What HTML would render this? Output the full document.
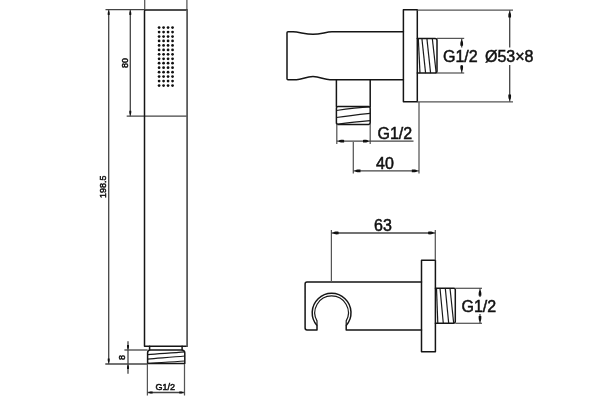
<!DOCTYPE html>
<html><head><meta charset="utf-8">
<style>
html,body{margin:0;padding:0;background:#fff;width:600px;height:400px;overflow:hidden}
svg{display:block;will-change:transform}
text{font-family:"Liberation Sans",sans-serif;fill:#111;stroke:#111;stroke-width:0.5}
.o{fill:none;stroke:#151515;stroke-width:1.5;stroke-linejoin:round;stroke-linecap:round}
.t{fill:none;stroke:#1a1a1a;stroke-width:1.2}
.d{fill:none;stroke:#444;stroke-width:1.3}
.e{fill:none;stroke:#555;stroke-width:1.25}
.a{fill:#111;stroke:none}
</style></head>
<body>
<svg width="600" height="400" viewBox="0 0 600 400">
<defs>
<path id="arr" d="M-1.2,0 C-2.5,-1.2 -4,-1.6 -7,-1.3 L-7,1.3 C-4,1.6 -2.5,1.2 -1.2,0 Z"/>
</defs>

<!-- ===== LEFT: hand shower ===== -->
<!-- top extension lines -->
<line class="e" x1="144.7" y1="0" x2="144.7" y2="10"/>
<line class="e" x1="186.9" y1="0" x2="186.9" y2="10"/>
<line class="d" x1="105.5" y1="9.6" x2="144.5" y2="9.6"/>
<line class="d" x1="126.7" y1="116.2" x2="187.3" y2="116.2"/>
<!-- handle body -->
<path class="o" d="M187.1,346.2 L144.5,346.2 L144.5,11 Q144.5,9.9 145.6,9.9 L187.1,9.9"/>
<line x1="187.1" y1="9.5" x2="187.1" y2="346.8" stroke="#5a5a5a" stroke-width="1.8"/>
<!-- dots -->
<g fill="#111"><circle cx="159.10" cy="27.60" r="1.38"/><circle cx="163.58" cy="27.60" r="1.38"/><circle cx="168.06" cy="27.60" r="1.38"/><circle cx="172.54" cy="27.60" r="1.38"/><circle cx="159.10" cy="32.05" r="1.38"/><circle cx="163.58" cy="32.05" r="1.38"/><circle cx="168.06" cy="32.05" r="1.38"/><circle cx="172.54" cy="32.05" r="1.38"/><circle cx="159.10" cy="36.51" r="1.38"/><circle cx="163.58" cy="36.51" r="1.38"/><circle cx="168.06" cy="36.51" r="1.38"/><circle cx="172.54" cy="36.51" r="1.38"/><circle cx="159.10" cy="40.97" r="1.38"/><circle cx="163.58" cy="40.97" r="1.38"/><circle cx="168.06" cy="40.97" r="1.38"/><circle cx="172.54" cy="40.97" r="1.38"/><circle cx="159.10" cy="45.42" r="1.38"/><circle cx="163.58" cy="45.42" r="1.38"/><circle cx="168.06" cy="45.42" r="1.38"/><circle cx="172.54" cy="45.42" r="1.38"/><circle cx="159.10" cy="49.88" r="1.38"/><circle cx="163.58" cy="49.88" r="1.38"/><circle cx="168.06" cy="49.88" r="1.38"/><circle cx="172.54" cy="49.88" r="1.38"/><circle cx="159.10" cy="54.33" r="1.38"/><circle cx="163.58" cy="54.33" r="1.38"/><circle cx="168.06" cy="54.33" r="1.38"/><circle cx="172.54" cy="54.33" r="1.38"/><circle cx="159.10" cy="58.79" r="1.38"/><circle cx="163.58" cy="58.79" r="1.38"/><circle cx="168.06" cy="58.79" r="1.38"/><circle cx="172.54" cy="58.79" r="1.38"/><circle cx="159.10" cy="63.24" r="1.38"/><circle cx="163.58" cy="63.24" r="1.38"/><circle cx="168.06" cy="63.24" r="1.38"/><circle cx="172.54" cy="63.24" r="1.38"/><circle cx="159.10" cy="67.69" r="1.38"/><circle cx="163.58" cy="67.69" r="1.38"/><circle cx="168.06" cy="67.69" r="1.38"/><circle cx="172.54" cy="67.69" r="1.38"/><circle cx="159.10" cy="72.15" r="1.38"/><circle cx="163.58" cy="72.15" r="1.38"/><circle cx="168.06" cy="72.15" r="1.38"/><circle cx="172.54" cy="72.15" r="1.38"/><circle cx="159.10" cy="76.61" r="1.38"/><circle cx="163.58" cy="76.61" r="1.38"/><circle cx="168.06" cy="76.61" r="1.38"/><circle cx="172.54" cy="76.61" r="1.38"/><circle cx="159.10" cy="81.06" r="1.38"/><circle cx="163.58" cy="81.06" r="1.38"/><circle cx="168.06" cy="81.06" r="1.38"/><circle cx="172.54" cy="81.06" r="1.38"/><circle cx="159.10" cy="85.52" r="1.38"/><circle cx="163.58" cy="85.52" r="1.38"/><circle cx="168.06" cy="85.52" r="1.38"/><circle cx="172.54" cy="85.52" r="1.38"/></g>
<!-- neck and thread -->
<line class="o" x1="149.6" y1="346.2" x2="149.6" y2="350"/>
<line class="o" x1="182.1" y1="346.2" x2="182.1" y2="350"/>
<path class="o" d="M149.6,350 L182.1,350 Q184.8,350.5 184.8,353 L184.8,363.6 L147.6,363.6 L147.6,353 Q147.6,350.5 149.6,350 Z"/>
<path class="t" d="M147.6,354.6 C160,353.5 172,353 184.8,351.8"/>
<path class="t" d="M147.6,359.1 C160,358 172,357.3 184.8,356"/>
<path class="t" d="M147.6,363.3 C160,362.5 172,362 184.8,361"/>
<!-- extension lines at thread -->
<line class="d" x1="124.4" y1="350" x2="147.6" y2="350"/>
<line class="d" x1="105.3" y1="364" x2="147.6" y2="364"/>
<line class="e" x1="147.4" y1="364" x2="147.4" y2="395.5"/>
<line class="e" x1="184.5" y1="364" x2="184.5" y2="395.5"/>
<!-- dim 198.5 -->
<line class="d" x1="108.7" y1="9.6" x2="108.7" y2="364"/>
<use href="#arr" class="a" transform="translate(108.7,10) rotate(-90) scale(0.72)"/>
<use href="#arr" class="a" transform="translate(108.7,363.6) rotate(90) scale(0.72)"/>
<!-- dim 80 -->
<line class="d" x1="130.3" y1="9.6" x2="130.3" y2="116.2"/>
<use href="#arr" class="a" transform="translate(130.3,10) rotate(-90) scale(0.72)"/>
<use href="#arr" class="a" transform="translate(130.3,115.8) rotate(90) scale(0.72)"/>
<!-- dim 8 -->
<line class="d" x1="128" y1="341.3" x2="128" y2="373.7"/>
<use href="#arr" class="a" transform="translate(128,350) rotate(90) scale(0.72)"/>
<use href="#arr" class="a" transform="translate(128,364) rotate(-90) scale(0.72)"/>
<!-- dim G1/2 bottom -->
<line class="d" x1="147.4" y1="392.5" x2="184.5" y2="392.5"/>
<use href="#arr" class="a" transform="translate(147.6,392.5) rotate(180) scale(0.72)"/>
<use href="#arr" class="a" transform="translate(184.3,392.5) scale(0.72)"/>
<text x="165.3" y="389.8" font-size="9" text-anchor="middle" stroke-width="0.2">G1/2</text>
<text transform="translate(106.3,186.8) rotate(-90)" font-size="9" text-anchor="middle" stroke-width="0.2">198.5</text>
<text transform="translate(127.6,63) rotate(-90)" font-size="9" text-anchor="middle" stroke-width="0.2">80</text>
<text transform="translate(125.2,357.5) rotate(-90)" font-size="9" text-anchor="middle" stroke-width="0.2">8</text>

<!-- ===== TOP RIGHT: wall outlet with holder ===== -->
<path class="o" d="M403.4,31.8 L332,31.8 C326,31.8 321,34.3 313,34.3 C305,34.3 299,31.8 293,31.8 L288,31.8 Q287,31.8 287,32.8 L287,78.7 Q287,79.7 288,79.7 L296.5,79.7 C302,79.7 306,76.6 313,76.6 C320,76.6 324,79.7 330,79.7 L403.4,79.7"/>
<rect class="o" x="403.4" y="9.7" width="13.9" height="92"/>
<path class="o" d="M417.3,38.5 L435,38.5 Q437,38.5 437,40.5 L437,71 Q437,73.1 435,73.1 L417.3,73.1"/>
<path class="t" d="M418.3,38.5 L420,73.1"/>
<path class="t" d="M421.9,38.5 L425.6,73.1"/>
<path class="t" d="M426.9,38.5 L430.6,73.1"/>
<path class="t" d="M432.3,38.5 L436.2,73.1"/>
<!-- lower outlet -->
<line class="o" x1="336.4" y1="79.7" x2="336.4" y2="106.6"/>
<line class="o" x1="370.2" y1="79.7" x2="370.2" y2="106.6"/>
<path class="o" d="M338,106.6 L368.5,106.6 Q370.2,106.6 370.2,108.5 L370.2,122.6 Q370.2,124.5 368.5,124.5 L338,124.5 Q336.4,124.5 336.4,122.6 L336.4,108.5 Q336.4,106.6 338,106.6 Z"/>
<path class="t" d="M336.4,110.5 C346,109 356,107.5 370.2,106.8"/>
<path class="t" d="M336.4,117.5 C346,116 356,114.8 370.2,113.3"/>
<path class="t" d="M336.4,124.3 C346,123 356,121.7 370.2,120.6"/>
<!-- ext lines -->
<line class="e" x1="417.3" y1="10.2" x2="513" y2="10.2"/>
<line class="e" x1="417.3" y1="101.8" x2="513" y2="101.8"/>
<line class="e" x1="437" y1="38.4" x2="464.2" y2="38.4"/>
<line class="e" x1="437" y1="73" x2="464.2" y2="73"/>
<line class="d" x1="461.7" y1="38.4" x2="461.7" y2="73"/>
<use href="#arr" class="a" transform="translate(461.7,38.8) rotate(-90)"/>
<use href="#arr" class="a" transform="translate(461.7,72.6) rotate(90)"/>
<line class="d" x1="509.7" y1="10.2" x2="509.7" y2="101.8"/>
<use href="#arr" class="a" transform="translate(509.7,10.6) rotate(-90)"/>
<use href="#arr" class="a" transform="translate(509.7,101.4) rotate(90)"/>
<rect x="484" y="47.5" width="50" height="17.5" fill="#fff"/>
<rect x="442" y="47.5" width="37" height="17.5" fill="#fff"/>
<text x="443" y="61.8" font-size="16">G1/2</text>
<text x="485" y="61.8" font-size="16">Ø53×8</text>
<!-- G1/2 lower -->
<line class="e" x1="336.8" y1="124" x2="336.8" y2="144"/>
<line class="e" x1="370.2" y1="124" x2="370.2" y2="144"/>
<line class="d" x1="336.9" y1="141.2" x2="413.5" y2="141.2"/>
<use href="#arr" class="a" transform="translate(337.1,141.2) rotate(180)"/>
<use href="#arr" class="a" transform="translate(370,141.2)"/>
<text x="377.5" y="138.7" font-size="16">G1/2</text>
<!-- 40 -->
<line class="e" x1="353.3" y1="142" x2="353.3" y2="173.5"/>
<line class="e" x1="419" y1="102" x2="419" y2="173.5"/>
<line class="d" x1="353.3" y1="170.9" x2="419" y2="170.9"/>
<use href="#arr" class="a" transform="translate(353.5,170.9) rotate(180)"/>
<use href="#arr" class="a" transform="translate(418.8,170.9)"/>
<text x="376" y="168.7" font-size="16">40</text>

<!-- ===== BOTTOM RIGHT: holder ===== -->
<path class="o" d="M421.5,282 L307,282 Q305.1,282 305.1,284 L305.1,328 Q305.1,329.9 307,329.9 L317,329.9 L317,325.5 A19.4,19.4 0 1 1 346.2,325.5 L346.2,329.9 L421.5,329.9"/>
<path class="t" d="M317,325.5 L317,320.9 A16.75,16.75 0 1 1 346.2,320.9 L346.2,325.5"/>
<rect class="o" x="421.5" y="260.3" width="13.9" height="91.5"/>
<path class="o" d="M435.4,288.3 L454.1,288.3 Q455.3,288.3 455.3,289.5 L455.3,321.3 Q455.3,323.3 453.3,323.3 L435.4,323.3"/>
<path class="t" d="M436.5,288.3 L437.8,323.3"/>
<path class="t" d="M440,288.3 L443.3,323.3"/>
<path class="t" d="M445.3,288.3 L448.7,323.3"/>
<path class="t" d="M450,288.3 L453.7,323.3"/>
<line class="e" x1="455.3" y1="288.3" x2="482" y2="288.3"/>
<line class="e" x1="455.3" y1="323.3" x2="482" y2="323.3"/>
<line class="d" x1="480" y1="288.3" x2="480" y2="323.3"/>
<use href="#arr" class="a" transform="translate(480,288.7) rotate(-90)"/>
<use href="#arr" class="a" transform="translate(480,322.9) rotate(90)"/>
<rect x="460" y="297" width="38" height="17" fill="#fff"/>
<text x="461.5" y="312" font-size="16">G1/2</text>
<!-- 63 -->
<line class="e" x1="331.4" y1="230" x2="331.4" y2="282"/>
<line class="e" x1="435.3" y1="230" x2="435.3" y2="260.3"/>
<line class="d" x1="331.4" y1="233" x2="435.3" y2="233"/>
<use href="#arr" class="a" transform="translate(331.6,233) rotate(180)"/>
<use href="#arr" class="a" transform="translate(435.1,233)"/>
<text x="374" y="230.7" font-size="16">63</text>
</svg>
</body></html>
